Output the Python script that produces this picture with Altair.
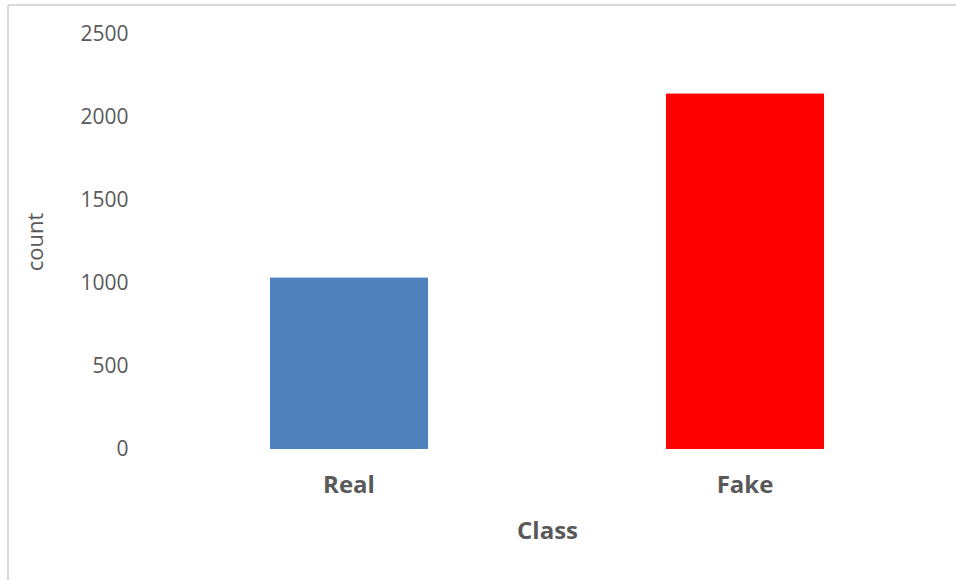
import altair as alt
import pandas as pd

categories = ["Real", "Fake"]
counts = [1034, 2143]
colors = ["#4F81BD", "#FF0000"]

df = pd.DataFrame({"Class": categories, "count": counts, "color": colors})

FONT = "Open Sans"
GRAY = "#595959"

bars = alt.Chart(df).mark_bar(cornerRadius=1).encode(
    x=alt.X("Class:N", sort=categories,
            scale=alt.Scale(paddingInner=0.6, paddingOuter=0.3),
            axis=alt.Axis(title="Class", labelAngle=0, domain=False, ticks=False,
                          labelFont=FONT, labelFontSize=24, labelFontWeight="bold",
                          labelColor=GRAY, labelPadding=24,
                          titleFont=FONT, titleFontSize=24, titleFontWeight="bold",
                          titleColor=GRAY, titlePadding=22)),
    y=alt.Y("count:Q", scale=alt.Scale(domain=[0, 2500]),
            axis=alt.Axis(title="count", values=[0, 500, 1000, 1500, 2000, 2500],
                          format="d",
                          domain=False, ticks=False, grid=False,
                          labelFont=FONT, labelFontSize=21, labelColor=GRAY,
                          labelPadding=23,
                          titleFont=FONT, titleFontSize=22, titleFontWeight="normal",
                          titleColor=GRAY, titlePadding=32)),
    color=alt.Color("color:N", scale=None, legend=None),
)

frame = alt.Data(values=[{"k": 1}])
top_rule = alt.Chart(frame).mark_rule(color="#d9d9d9", strokeWidth=2).encode(
    x=alt.value(-143), x2=alt.value(810), y=alt.value(-29)
)
left_rule = alt.Chart(frame).mark_rule(color="#d9d9d9", strokeWidth=2).encode(
    x=alt.value(-143), y=alt.value(-29), y2=alt.value(560)
)

chart = alt.layer(bars, top_rule, left_rule).properties(
    width=792, height=415,
    autosize=alt.AutoSizeParams(type="none"),
    padding={"left": 151, "top": 34, "right": 13, "bottom": 131},
    background="white",
).configure_view(stroke=None)

chart.save("out.html", embed_options={"renderer": "svg", "actions": False})
